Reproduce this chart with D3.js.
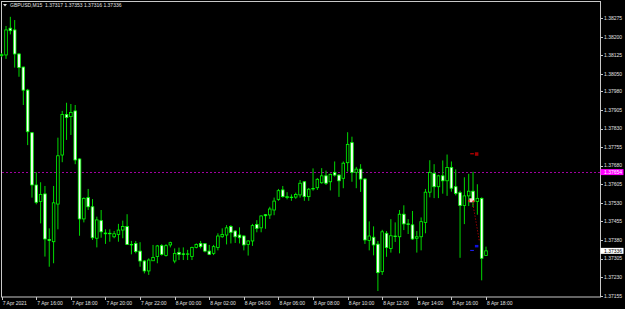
<!DOCTYPE html>
<html>
<head>
<meta charset="utf-8">
<script src="https://cdn.jsdelivr.net/npm/d3@7"></script>
<style>
  html, body { margin: 0; padding: 0; background: #000; }
  svg { display: block; }
</style>
</head>
<body>
<div class="graph-chart"></div>
<script>
// GBPUSD M15 bars, 7 Apr 2021 14:00 -> 8 Apr 2021 18:00 (UTC)
const symbol = "GBPUSD,M15";
const startTime = Date.UTC(2021, 3, 7, 14, 0);
const barMinutes = 15;

const opens = [
  1.38125, 1.38127, 1.38235, 1.38228, 1.38131, 1.38078, 1.37985, 1.37813, 1.37602, 1.37535,
  1.37566, 1.37382, 1.37373, 1.37525, 1.37723, 1.37887, 1.37878, 1.37901, 1.37707, 1.37465,
  1.37551, 1.37514, 1.37387, 1.37458, 1.37408, 1.37405, 1.37393, 1.37402, 1.37420, 1.37434,
  1.37362, 1.37366, 1.37335, 1.37295, 1.37255, 1.37296, 1.37313, 1.37357, 1.37317, 1.37360,
  1.37295, 1.37330, 1.37324, 1.37322, 1.37313, 1.37350, 1.37366, 1.37365, 1.37335, 1.37326,
  1.37350, 1.37393, 1.37400, 1.37434, 1.37416, 1.37400, 1.37396, 1.37362, 1.37376, 1.37443,
  1.37429, 1.37482, 1.37481, 1.37501, 1.37544, 1.37582, 1.37551, 1.37553, 1.37553, 1.37562,
  1.37615, 1.37555, 1.37586, 1.37591, 1.37611, 1.37639, 1.37615, 1.37653, 1.37642, 1.37629,
  1.37692, 1.37773, 1.37653, 1.37666, 1.37626, 1.37378, 1.37391, 1.37363, 1.37252, 1.37407,
  1.37346, 1.37396, 1.37393, 1.37484, 1.37445, 1.37441, 1.37387, 1.37393, 1.37451, 1.37573,
  1.37649, 1.37595, 1.37639, 1.37619, 1.37673, 1.37595, 1.37571, 1.37519, 1.37558, 1.37577,
  1.37535, 1.37548, 1.37317
];
const highs = [
  1.38135, 1.38244, 1.38281, 1.38268, 1.38135, 1.38080, 1.37990, 1.37815, 1.37653, 1.37613,
  1.37598, 1.37427, 1.37598, 1.37793, 1.37901, 1.37934, 1.37929, 1.37925, 1.37710, 1.37552,
  1.37586, 1.37545, 1.37474, 1.37501, 1.37423, 1.37423, 1.37416, 1.37445, 1.37458, 1.37484,
  1.37376, 1.37376, 1.37371, 1.37299, 1.37306, 1.37360, 1.37360, 1.37363, 1.37363, 1.37373,
  1.37346, 1.37349, 1.37350, 1.37340, 1.37353, 1.37366, 1.37376, 1.37366, 1.37360, 1.37360,
  1.37407, 1.37427, 1.37440, 1.37440, 1.37420, 1.37431, 1.37400, 1.37379, 1.37445, 1.37460,
  1.37480, 1.37484, 1.37514, 1.37551, 1.37586, 1.37598, 1.37573, 1.37564, 1.37571, 1.37622,
  1.37618, 1.37590, 1.37669, 1.37630, 1.37670, 1.37660, 1.37648, 1.37697, 1.37646, 1.37697,
  1.37815, 1.37797, 1.37675, 1.37686, 1.37630, 1.37455, 1.37435, 1.37376, 1.37421, 1.37416,
  1.37464, 1.37451, 1.37501, 1.37520, 1.37464, 1.37497, 1.37416, 1.37471, 1.37586, 1.37702,
  1.37686, 1.37643, 1.37701, 1.37725, 1.37697, 1.37665, 1.37579, 1.37633, 1.37647, 1.37655,
  1.37605, 1.37552, 1.37353
];
const lows = [
  1.38118, 1.38111, 1.38210, 1.38076, 1.38039, 1.37925, 1.37763, 1.37551, 1.37524, 1.37447,
  1.37313, 1.37272, 1.37286, 1.37423, 1.37694, 1.37784, 1.37804, 1.37686, 1.37397, 1.37451,
  1.37501, 1.37380, 1.37350, 1.37389, 1.37364, 1.37373, 1.37387, 1.37373, 1.37387, 1.37360,
  1.37322, 1.37326, 1.37272, 1.37245, 1.37239, 1.37295, 1.37286, 1.37317, 1.37313, 1.37350,
  1.37286, 1.37299, 1.37299, 1.37299, 1.37299, 1.37346, 1.37346, 1.37330, 1.37319, 1.37319,
  1.37338, 1.37389, 1.37362, 1.37366, 1.37368, 1.37366, 1.37338, 1.37317, 1.37356, 1.37411,
  1.37411, 1.37425, 1.37465, 1.37480, 1.37538, 1.37551, 1.37544, 1.37538, 1.37546, 1.37551,
  1.37538, 1.37538, 1.37579, 1.37582, 1.37607, 1.37602, 1.37580, 1.37636, 1.37554, 1.37589,
  1.37656, 1.37615, 1.37589, 1.37574, 1.37364, 1.37338, 1.37318, 1.37174, 1.37239, 1.37312,
  1.37329, 1.37372, 1.37326, 1.37420, 1.37404, 1.37380, 1.37329, 1.37338, 1.37407, 1.37552,
  1.37549, 1.37549, 1.37567, 1.37558, 1.37575, 1.37560, 1.37308, 1.37444, 1.37517, 1.37513,
  1.37482, 1.37217, 1.37316
];
const closes = [
  1.38128, 1.38228, 1.38225, 1.38131, 1.38076, 1.37985, 1.37817, 1.37602, 1.37532, 1.37564,
  1.37384, 1.37378, 1.37530, 1.37720, 1.37887, 1.37874, 1.37895, 1.37703, 1.37465, 1.37548,
  1.37514, 1.37389, 1.37461, 1.37413, 1.37405, 1.37407, 1.37405, 1.37420, 1.37434, 1.37362,
  1.37360, 1.37333, 1.37295, 1.37255, 1.37299, 1.37309, 1.37356, 1.37322, 1.37357, 1.37369,
  1.37326, 1.37322, 1.37322, 1.37324, 1.37350, 1.37362, 1.37353, 1.37335, 1.37322, 1.37353,
  1.37396, 1.37402, 1.37429, 1.37411, 1.37393, 1.37389, 1.37360, 1.37376, 1.37438, 1.37427,
  1.37477, 1.37478, 1.37505, 1.37537, 1.37579, 1.37555, 1.37555, 1.37551, 1.37564, 1.37609,
  1.37555, 1.37585, 1.37588, 1.37625, 1.37639, 1.37609, 1.37645, 1.37642, 1.37619, 1.37690,
  1.37766, 1.37653, 1.37666, 1.37626, 1.37380, 1.37396, 1.37360, 1.37248, 1.37413, 1.37349,
  1.37397, 1.37394, 1.37484, 1.37445, 1.37443, 1.37384, 1.37393, 1.37454, 1.37573, 1.37653,
  1.37595, 1.37639, 1.37619, 1.37673, 1.37589, 1.37568, 1.37519, 1.37558, 1.37577, 1.37535,
  1.37548, 1.37306, 1.37336
];

// right-hand price scale labels
const priceTicks = [
  1.38275, 1.38200, 1.38125, 1.38050, 1.37980, 1.37905, 1.37830, 1.37755,
  1.37680, 1.37605, 1.37530, 1.37455, 1.37380, 1.37305, 1.37230, 1.37155
];
const alertLevel = 1.37654;   // magenta horizontal line
const bidLevel = 1.37336;     // current price

// trade history marks (bar index, price)
const stopMark = [109.2, 1.37730];
const takeMark = [109.2, 1.37352];
const entryMark = [108.85, 1.37538];
const exitMark = [110.5, 1.37372];


const width = 625, height = 309;
const plotRight = 600.5, plotBottom = 297;

const svg = d3.select(".graph-chart").append("svg")
  .attr("width", width)
  .attr("height", height)
  .style("font-family", "'Liberation Sans', Arial, sans-serif");

svg.append("rect")
  .attr("width", width)
  .attr("height", height)
  .attr("fill", "#000");

const bars = opens.map((o, i) => ({
  t: new Date(startTime + i * barMinutes * 60000),
  o: o, h: highs[i], l: lows[i], c: closes[i]
}));

const x = d3.scaleUtc()
  .domain([bars[0].t, bars[bars.length - 1].t])
  .range([1.7, 486]);

const y = d3.scaleLinear()
  .domain([1.37155, 1.38275])
  .range([295.7, 18.3]);

// bar index -> x, for the trade marks between bars
const xi = i => x(new Date(startTime + i * barMinutes * 60000));

// frame
svg.append("rect")
  .attr("x", 1.5)
  .attr("y", 1.5)
  .attr("width", plotRight - 1.5)
  .attr("height", plotBottom - 1.5)
  .attr("fill", "none")
  .attr("stroke", "#c8c8c8")
  .attr("stroke-width", 1);

// magenta level
svg.append("line")
  .attr("x1", 2).attr("x2", plotRight)
  .attr("y1", Math.round(y(alertLevel)) + 0.5)
  .attr("y2", Math.round(y(alertLevel)) + 0.5)
  .attr("stroke", "#a000a0")
  .attr("stroke-dasharray", "2,2");

// candles
const candle = svg.append("g").selectAll("g")
  .data(bars)
  .join("g");

candle.append("line")
  .attr("x1", d => x(d.t)).attr("x2", d => x(d.t))
  .attr("y1", d => y(d.h)).attr("y2", d => y(d.l))
  .attr("stroke", "#00d800")
  .attr("stroke-width", 1);

candle.append("rect")
  .attr("x", d => x(d.t) - 1.3)
  .attr("width", 2.6)
  .attr("y", d => y(Math.max(d.o, d.c)))
  .attr("height", d => Math.max(Math.abs(y(d.o) - y(d.c)), 0.3))
  .attr("fill", d => d.c < d.o ? "#fff" : "#000")
  .attr("stroke", "#00ff00")
  .attr("stroke-width", 0.8);

// trade marks
const trade = svg.append("g");

trade.append("line")
  .attr("x1", xi(entryMark[0])).attr("y1", y(entryMark[1]))
  .attr("x2", xi(exitMark[0])).attr("y2", y(exitMark[1]))
  .attr("stroke", "#e00000")
  .attr("stroke-dasharray", "1,2");

trade.append("line")
  .attr("x1", xi(stopMark[0] - 0.85)).attr("x2", xi(stopMark[0]))
  .attr("y1", y(stopMark[1]) + 0.5).attr("y2", y(stopMark[1]) + 0.5)
  .attr("stroke", "#e00000");
trade.append("rect")
  .attr("x", xi(stopMark[0]) + 1).attr("y", y(stopMark[1]) - 1)
  .attr("width", 3.5).attr("height", 3.5)
  .attr("fill", "#a00000");

trade.append("line")
  .attr("x1", xi(takeMark[0] - 0.85)).attr("x2", xi(takeMark[0]))
  .attr("y1", y(takeMark[1]) + 3.5).attr("y2", y(takeMark[1]) + 3.5)
  .attr("stroke", "#2020ff");
trade.append("rect")
  .attr("x", xi(takeMark[0]) + 1).attr("y", y(takeMark[1]) - 2)
  .attr("width", 3.5).attr("height", 2.5)
  .attr("fill", "#1010e0");

trade.append("rect")
  .attr("x", xi(entryMark[0]) - 3).attr("y", y(entryMark[1]) - 2.5)
  .attr("width", 3).attr("height", 4)
  .attr("fill", "#ffd0d0");
trade.append("rect")
  .attr("x", xi(entryMark[0]) - 4).attr("y", y(entryMark[1]) - 1)
  .attr("width", 1.5).attr("height", 2)
  .attr("fill", "#ff2020");
trade.append("rect")
  .attr("x", xi(entryMark[0]) + 0.5).attr("y", y(entryMark[1]) - 0.5)
  .attr("width", 1.5).attr("height", 2)
  .attr("fill", "#ff2020");

// price axis
const priceAxis = svg.append("g");
priceAxis.selectAll("line")
  .data(priceTicks)
  .join("line")
  .attr("x1", plotRight).attr("x2", plotRight + 2.5)
  .attr("y1", d => Math.round(y(d)) + 0.5)
  .attr("y2", d => Math.round(y(d)) + 0.5)
  .attr("stroke", "#c8c8c8");
priceAxis.selectAll("text")
  .data(priceTicks)
  .join("text")
  .attr("x", plotRight + 3.5)
  .attr("y", d => y(d) + 1.8)
  .text(d => d.toFixed(5))
  .style("font-size", "5px")
  .style("fill", "#e0e0e0");

// price flags
function flag(level, bg, fg) {
  svg.append("rect")
    .attr("x", plotRight)
    .attr("y", y(level) - 3)
    .attr("width", 23)
    .attr("height", 6)
    .attr("fill", bg);
  svg.append("text")
    .attr("x", plotRight + 3.5)
    .attr("y", y(level) + 1.8)
    .text(level.toFixed(5))
    .style("font-size", "5px")
    .style("fill", fg);
}
flag(alertLevel, "#ff00ff", "#fff");
flag(bidLevel, "#fff", "#000");

// time axis
const timeTicks = x.ticks(d3.utcHour.every(2));
const fmt = d3.utcFormat("%-d %b %H:%M");
const timeAxis = svg.append("g");
timeAxis.selectAll("line")
  .data(timeTicks)
  .join("line")
  .attr("x1", d => Math.round(x(d)) + 0.5).attr("x2", d => Math.round(x(d)) + 0.5)
  .attr("y1", plotBottom).attr("y2", plotBottom + 3)
  .attr("stroke", "#c8c8c8");
timeAxis.selectAll("text")
  .data(timeTicks)
  .join("text")
  .attr("x", d => x(d) + 1)
  .attr("y", 305)
  .text((d, i) => i === 0 ? d3.utcFormat("%-d %b %Y")(d) : fmt(d))
  .style("font-size", "5px")
  .style("fill", "#e0e0e0");

// header
svg.append("path")
  .attr("d", "M3,4 L7,4 L5,6.5 Z")
  .attr("fill", "#e0e0e0");
svg.append("text")
  .attr("x", 10)
  .attr("y", 7)
  .text(symbol + "  " + [opens, highs, lows, closes].map(a => a[a.length - 1].toFixed(5)).join(" "))
  .style("font-size", "5px")
  .style("fill", "#e0e0e0")
  .attr("xml:space", "preserve");
</script>
</body>
</html>
